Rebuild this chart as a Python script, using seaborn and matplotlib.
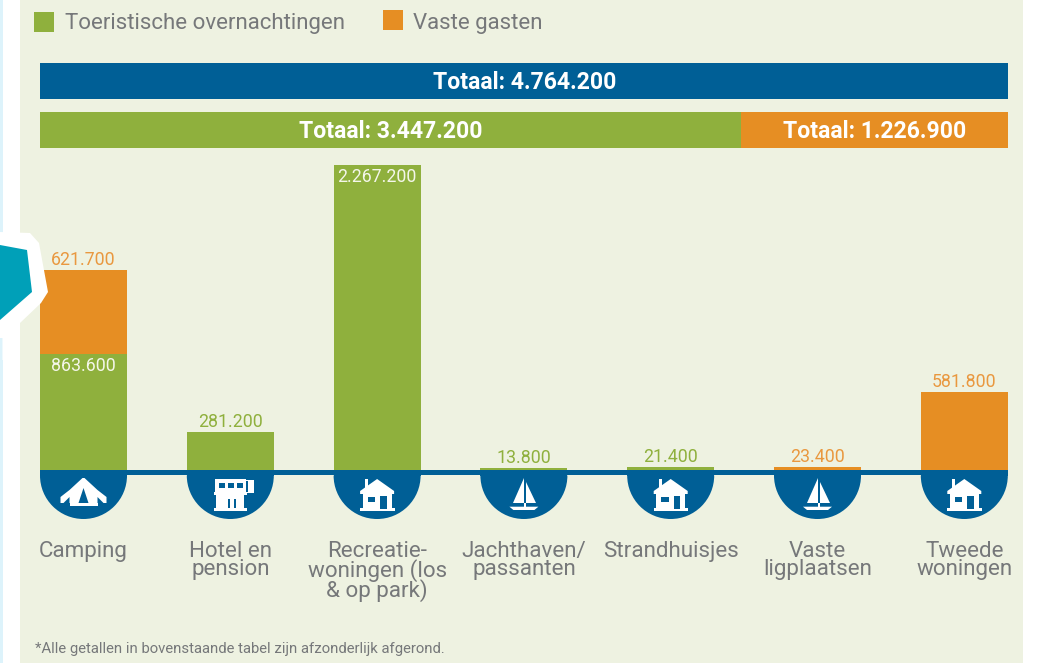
import matplotlib.pyplot as plt
import numpy as np
import seaborn as sns
from matplotlib.patches import Polygon, Rectangle, Wedge

categories = [
    "Camping",
    "Hotel en\npension",
    "Recreatie-\nwoningen (los\n& op park)",
    "Jachthaven/\npassanten",
    "Strandhuisjes",
    "Vaste\nligplaatsen",
    "Tweede\nwoningen",
]
toeristisch = [863600, 281200, 2267200, 13800, 21400, 0, 0]
vaste_gasten = [621700, 0, 0, 0, 0, 23400, 581800]
icons = ["tent", "hotel", "house", "boat", "house", "boat", "house"]

rows = ["totaal", "uitsplitsing"]
totaal = 4764200
totaal_toeristisch = 3447200
totaal_vaste = 1226900

GREEN = "#8FB03D"
ORANGE = "#E68E23"
BLUE = "#005F96"
PANEL = "#EEF2E1"
GREY = "#76787A"
TEAL = "#00A0B8"
FONT = "Roboto"

W, H = 1039, 663
BASE_Y = 470
X0, STEP = 83.5, 146.8
PX_VALUE = 7433  # value per pixel on the bar scale


def fmt(v):
    return f"{v:,}".replace(",", ".")


def px(size):
    # font sizes and offsets are measured in pixels on the picture
    return size * 0.72


def overlay(zorder):
    a = fig.add_axes([0, 0, 1, 1], zorder=zorder)
    a.set_xlim(0, W)
    a.set_ylim(H, 0)
    a.axis("off")
    a.patch.set_alpha(0)
    return a


def poly(a, cx, pts, color="white"):
    pts = [(cx + x, y) for x, y in pts]
    a.add_patch(Polygon(pts, closed=True, fc=color, ec="none"))


def rect(a, x0, y0, x1, y1, color="white"):
    a.add_patch(Rectangle((x0, y0), x1 - x0, y1 - y0, fc=color, ec="none"))


def draw_icon(a, kind, cx):
    if kind == "tent":
        poly(a, cx, [(-1, 478), (1, 478), (14, 490), (23, 497), (23, 503), (20, 503),
                     (14, 497), (14, 503), (-14, 503), (-14, 497), (-20, 503),
                     (-23, 503), (-23, 497), (-14, 490)])
        rect(a, cx - 14, 503, cx + 14, 505.7)
        poly(a, cx, [(0, 488), (5, 503), (-5, 503)], BLUE)
    elif kind == "hotel":
        rect(a, cx - 15, 479, cx + 16, 494)
        rect(a, cx + 15, 480, cx + 24, 493)
        rect(a, cx + 15.5, 481, cx + 18, 492, BLUE)
        for dx in (-11.5, -2.5, 6.5):
            rect(a, cx + dx, 483, cx + dx + 6, 488, BLUE)
        rect(a, cx - 14, 494, cx + 14, 509)
        rect(a, cx - 16, 508, cx + 17, 511)
        rect(a, cx - 16, 492, cx + 17, 494.5)
        rect(a, cx - 2.5, 499, cx - 0.5, 508, BLUE)
        rect(a, cx + 3.5, 499, cx + 5.5, 508, BLUE)
    elif kind == "house":
        rect(a, cx - 12, 479, cx - 9, 488)
        poly(a, cx, [(0, 479), (17, 491), (17, 494), (-17, 494), (-17, 491)])
        rect(a, cx - 14.5, 494, cx + 14.5, 509)
        rect(a, cx - 17, 508, cx + 17.5, 511)
        rect(a, cx - 9.5, 497.3, cx - 2, 501.7, BLUE)
        rect(a, cx + 3, 496, cx + 9.5, 509, BLUE)
    else:
        poly(a, cx, [(0, 478), (0, 503.3), (-10.5, 503.3)])
        poly(a, cx, [(2.2, 481.7), (2.2, 503.3), (12.2, 503.3)])
        rect(a, cx, 503, cx + 2, 507)
        poly(a, cx, [(-14.5, 506.7), (14.5, 506.7), (10.5, 510), (-10.5, 510)])


fig = plt.figure(figsize=(W / 100, H / 100), dpi=100, facecolor="white")

# page background
bg = overlay(0)
rect(bg, 20, 0, 1023, H, PANEL)
rect(bg, 0, 0, 2.5, H, "#DDF3FB")

# bars by sector, y axis starts at the blue line
ax = fig.add_axes([0, 0, 1, 1], zorder=1)
idx = list(range(len(categories)))
sns.barplot(x=idx, y=toeristisch, color=GREEN, saturation=1, width=87 / STEP, ax=ax)
sns.barplot(x=idx, y=vaste_gasten, bottom=toeristisch, color=ORANGE, saturation=1,
            width=87 / STEP, ax=ax)
ax.set_xlim(-X0 / STEP, (W - X0) / STEP)
ax.set_ylim((BASE_Y - H) * PX_VALUE, BASE_Y * PX_VALUE)
ax.axis("off")
ax.patch.set_alpha(0)

for i in idx:
    t, v = toeristisch[i], vaste_gasten[i]
    if v:
        ax.annotate(fmt(v), (i, t + v), xytext=(0, px(1)), textcoords="offset points",
                    ha="center", va="bottom", color="#E9983F", family=FONT, fontsize=px(17.8))
    if t:
        inside = t > 500000
        ax.annotate(fmt(t), (i, t), xytext=(0, px(-3) if inside else px(1)),
                    textcoords="offset points", ha="center",
                    va="top" if inside else "bottom",
                    color="#F4F6EA" if inside else GREEN, family=FONT, fontsize=px(17.8))
    ax.annotate(categories[i], (i, 0), xytext=(0, px(-71)), textcoords="offset points",
                ha="center", va="top", color=GREY, family=FONT, fontsize=px(22.4),
                linespacing=0.82)

# total rows on top
top = fig.add_axes([40 / W, 1 - 148 / H, 968.5 / W, 85 / H], zorder=1)
sns.barplot(y=rows, x=[totaal, totaal_toeristisch], hue=rows, palette=[BLUE, GREEN],
            saturation=1, width=36 / 49, legend=False, orient="h", ax=top)
# the second row fills the full width, like the blue one
rest = [0, totaal - totaal_toeristisch]
sns.barplot(y=rows, x=rest, left=[totaal, totaal_toeristisch], color=ORANGE, saturation=1,
            width=36 / 49, orient="h", ax=top)
top.set_xlim(0, totaal)
top.set_ylim(1 + 18 / 49, -18 / 49)
top.axis("off")
top.patch.set_alpha(0)
label_kw = dict(color="white", family=FONT, fontsize=px(23), fontweight="bold",
                ha="center", va="center")
top.text(totaal / 2, 0.03, "Totaal: " + fmt(totaal), **label_kw)
top.text(totaal_toeristisch / 2, 1.03, "Totaal: " + fmt(totaal_toeristisch), **label_kw)
top.text(totaal_toeristisch + rest[1] / 2, 1.03, "Totaal: " + fmt(totaal_vaste), **label_kw)

# baseline, half rounds with icons, legend, side shape
fg = overlay(2)
rect(fg, 40, BASE_Y, 1008, BASE_Y + 5, BLUE)
for i, kind in enumerate(icons):
    cx = X0 + STEP * i
    rect(fg, cx - 43.5, BASE_Y, cx + 43.5, BASE_Y + 6, BLUE)
    fg.add_patch(Wedge((cx, BASE_Y + 5.5), 43.5, 0, 180, fc=BLUE, ec="none"))
    draw_icon(fg, kind, cx)

poly(fg, 0, [(0, 232), (30, 233), (39, 243), (48, 292), (41, 303), (20, 323), (20, 360),
             (2.5, 360), (2.5, 338), (0, 338)])
poly(fg, 0, [(0, 245), (27, 250), (32, 292), (0, 320)], TEAL)

rect(fg, 33.5, 12, 53.5, 32, GREEN)
rect(fg, 383, 10, 403, 30, ORANGE)
fg.text(65, 23, "Toeristische overnachtingen", color=GREY, family=FONT, fontsize=px(22.3),
        va="center")
fg.text(413, 23, "Vaste gasten", color=GREY, family=FONT, fontsize=px(22.3), va="center")
fg.text(35, 649, "*Alle getallen in bovenstaande tabel zijn afzonderlijk afgerond.",
        color=GREY, family=FONT, fontsize=px(14.9), va="center")

fig.savefig("out.png", dpi=100, facecolor=fig.get_facecolor())
